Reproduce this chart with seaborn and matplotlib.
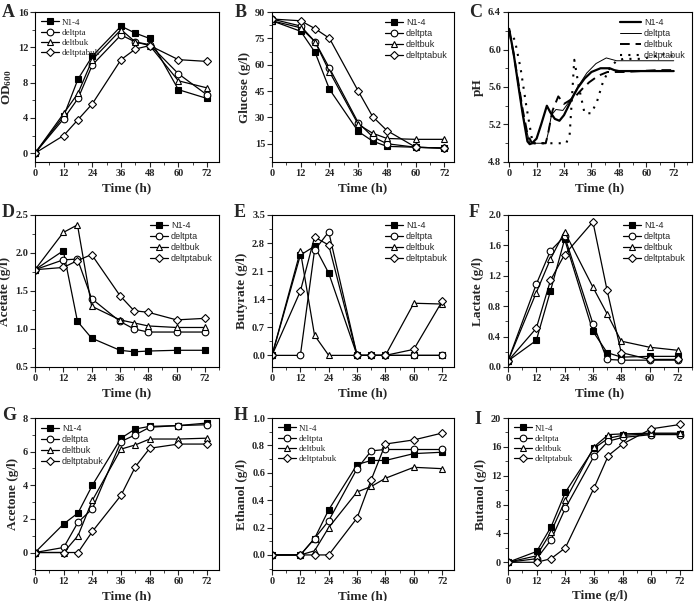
import numpy as np
import pandas as pd
import matplotlib
matplotlib.use("Agg")
import matplotlib.pyplot as plt
from matplotlib.ticker import AutoMinorLocator, FormatStrFormatter, MultipleLocator
import seaborn as sns

sns.set_style("ticks")
plt.rcParams['font.family'] = ['Liberation Serif', 'DejaVu Serif']
plt.rcParams['mathtext.fontset'] = 'custom'
plt.rcParams['mathtext.rm'] = 'Liberation Serif:bold'
plt.rcParams['mathtext.default'] = 'rm'

strains = ['N1-4', 'deltpta', 'deltbuk', 'deltptabuk']
time = [0, 12, 18, 24, 36, 42, 48, 60, 72]

# A: OD600
od = {
    'N1-4':       [0, 4.2, 8.4, 11.0, 14.4, 13.6, 13.0, 7.2, 6.2],
    'deltpta':    [0, 3.9, 6.2, 10.0, 13.4, 12.6, 12.3, 9.0, 6.6],
    'deltbuk':    [0, 4.5, 6.8, 10.6, 14.0, 12.6, 12.2, 8.2, 7.4],
    'deltptabuk': [0, 2.0, 3.8, 5.6, 10.6, 11.8, 12.2, 10.6, 10.4],
}
# B: glucose
glucose = {
    'N1-4':       [85, 79, 67, 46, 22, 16.5, 13.5, 13, 12.5],
    'deltpta':    [86, 82, 73, 58, 27, 19, 15, 13, 12.5],
    'deltbuk':    [85, 81, 73, 56, 26, 21, 18, 17.5, 17.5],
    'deltptabuk': [86, 85, 80.5, 75, 45, 30.5, 22.5, 13, 12.5],
}
# C: pH (online record)
ph_t = {
    'N1-4':       [0, 2, 4, 6, 8, 9, 10, 12, 14, 16.5, 18, 20, 22, 24, 26, 28, 30, 33, 36, 40, 44, 46, 48, 60, 72],
    'deltpta':    [0, 2, 4, 6, 9, 12, 16, 17, 18.5, 20.5, 23.5, 26.5, 30, 34, 38, 42.5, 47, 60, 72],
    'deltbuk':    [0, 2, 4, 6, 8, 10, 13, 16, 17, 19, 21.5, 24, 26, 29, 32, 35, 39, 43, 46, 50, 65, 72],
    'deltptabuk': [0, 2.5, 5, 7.5, 10.3, 15, 20, 25, 26.5, 28.5, 30.5, 33, 36, 38.5, 41, 44, 47, 50, 58, 64, 68, 72],
}
ph = {
    'N1-4':       [6.22, 5.95, 5.62, 5.3, 5.02, 4.99, 5.0, 5.05, 5.2, 5.4, 5.33, 5.26, 5.24, 5.3, 5.4, 5.5, 5.59, 5.69, 5.76, 5.8, 5.8, 5.78, 5.77, 5.77, 5.77],
    'deltpta':    [6.22, 5.95, 5.62, 5.3, 5.0, 5.0, 5.0, 5.1, 5.3, 5.36, 5.35, 5.45, 5.6, 5.75, 5.85, 5.91, 5.88, 5.88, 5.88],
    'deltbuk':    [6.2, 5.95, 5.65, 5.35, 5.1, 5.0, 5.0, 5.0, 5.1, 5.35, 5.5, 5.42, 5.45, 5.5, 5.58, 5.65, 5.72, 5.76, 5.76, 5.76, 5.78, 5.78],
    'deltptabuk': [6.2, 6.1, 5.8, 5.4, 5.0, 5.0, 5.0, 5.0, 5.1, 5.89, 5.6, 5.32, 5.32, 5.45, 5.65, 5.8, 5.88, 5.9, 5.9, 5.93, 5.95, 5.93],
}
# D: acetate
acetate = {
    'N1-4':       [1.78, 2.03, 1.10, 0.88, 0.72, 0.70, 0.71, 0.72, 0.72],
    'deltpta':    [1.78, 1.91, 1.92, 1.40, 1.10, 1.00, 0.96, 0.96, 0.96],
    'deltbuk':    [1.78, 2.27, 2.37, 1.30, 1.12, 1.08, 1.04, 1.02, 1.02],
    'deltptabuk': [1.78, 1.81, 1.90, 1.98, 1.44, 1.24, 1.22, 1.12, 1.14],
}
# E: butyrate
butyrate = {
    'N1-4':       [0, 2.5, 2.72, 2.05, 0, 0, 0, 0, 0],
    'deltpta':    [0, 0, 2.62, 3.08, 0, 0, 0, 0, 0],
    'deltbuk':    [0, 2.6, 0.5, 0, 0, 0, 0, 1.3, 1.28],
    'deltptabuk': [0, 1.6, 2.95, 2.75, 0, 0, 0, 0.15, 1.35],
}
# F: lactate
lactate = {
    'N1-4':       [0.08, 0.35, 1.0, 1.68, 0.47, 0.19, 0.13, 0.14, 0.14],
    'deltpta':    [0.08, 1.09, 1.53, 1.72, 0.57, 0.10, 0.09, 0.09, 0.09],
    'deltbuk':    [0.08, 0.98, 1.42, 1.78, 1.05, 0.70, 0.34, 0.26, 0.22],
    'deltptabuk': [0.08, 0.51, 1.14, 1.48, 1.91, 1.01, 0.19, 0.10, 0.10],
}
# G: acetone
acetone = {
    'N1-4':       [0, 1.7, 2.35, 4.0, 6.8, 7.35, 7.5, 7.55, 7.7],
    'deltpta':    [0, 0.3, 1.8, 2.6, 6.6, 7.0, 7.45, 7.55, 7.6],
    'deltbuk':    [0, 0.0, 1.0, 3.1, 6.15, 6.4, 6.75, 6.75, 6.8],
    'deltptabuk': [0, 0, 0, 1.25, 3.4, 5.1, 6.2, 6.45, 6.45],
}
# H: ethanol
ethanol = {
    'N1-4':       [0, 0, 0.12, 0.33, 0.66, 0.69, 0.69, 0.74, 0.75],
    'deltpta':    [0, 0, 0.12, 0.25, 0.63, 0.76, 0.77, 0.77, 0.77],
    'deltbuk':    [0, 0, 0.03, 0.20, 0.46, 0.50, 0.56, 0.64, 0.63],
    'deltptabuk': [0, 0, 0, 0, 0.27, 0.55, 0.81, 0.84, 0.89],
}
# I: butanol
butanol = {
    'N1-4':       [0, 1.5, 4.9, 9.7, 15.8, 17.2, 17.6, 17.8, 17.8],
    'deltpta':    [0, 0.5, 3.1, 7.5, 14.7, 16.8, 17.3, 17.7, 17.7],
    'deltbuk':    [0, 0.9, 4.2, 8.6, 16.0, 17.7, 17.8, 17.9, 17.9],
    'deltptabuk': [0, 0, 0.5, 2.0, 10.3, 14.8, 16.4, 18.5, 19.1],
}

markers = {'N1-4': 's', 'deltpta': 'o', 'deltbuk': '^', 'deltptabuk': 'D'}
faces = {'N1-4': 'black', 'deltpta': 'white', 'deltbuk': 'white', 'deltptabuk': 'white'}
msizes = {'N1-4': 4.2, 'deltpta': 4.8, 'deltbuk': 4.8, 'deltptabuk': 4.2}

fig = plt.figure(figsize=(6.96, 6.01), dpi=100)

W, H = 696.0, 601.0
def add_ax(l, t, r, b):
    return fig.add_axes([l / W, 1 - b / H, (r - l) / W, (b - t) / H])

rows = [(12, 162), (215, 367), (418, 570)]
cols = [(35, 219), (272, 454), (508, 692)]

def style(ax, xlim, ylim, ymaj, fmt=None, xlabel='Time (h)', ylabel=''):
    ax.set_xlim(*xlim)
    ax.set_ylim(*ylim)
    ax.xaxis.set_major_locator(MultipleLocator(12))
    ax.xaxis.set_minor_locator(MultipleLocator(6))
    ax.yaxis.set_major_locator(MultipleLocator(ymaj))
    ax.yaxis.set_minor_locator(MultipleLocator(ymaj / 2))
    if fmt:
        ax.yaxis.set_major_formatter(FormatStrFormatter(fmt))
    ax.tick_params(which='major', direction='out', length=3.5, width=0.8, labelsize=7.5, pad=1.5)
    ax.tick_params(which='minor', direction='out', length=2, width=0.6)
    for lab in ax.get_xticklabels() + ax.get_yticklabels():
        lab.set_fontweight('bold')
    for s in ax.spines.values():
        s.set_linewidth(0.8)
        s.set_color('black')
    ax.set_xlabel(xlabel, fontsize=9.5, fontweight='bold', labelpad=3)
    ax.set_ylabel(ylabel, fontsize=9.5, fontweight='bold', labelpad=3)

def marker_panel(ax, data, loc, serif):
    for s in strains:
        sns.lineplot(x=time, y=data[s], ax=ax, color='black', linewidth=0.9,
                     marker=markers[s], markersize=msizes[s], markerfacecolor=faces[s],
                     markeredgecolor='black', markeredgewidth=0.8, label=s)
    fam = ['Liberation Serif'] if serif else ['Liberation Sans']
    leg = ax.legend(loc=loc, frameon=False, handlelength=2.0, handletextpad=0.3,
                    labelspacing=0.2, borderaxespad=0.3, prop={'family': fam, 'size': 6.5})
    return leg

# A
ax = add_ax(cols[0][0], rows[0][0], cols[0][1], rows[0][1])
marker_panel(ax, od, 'upper left', True)
style(ax, (0, 77), (-1, 16), 4, ylabel='OD$_{600}$')

# B
ax = add_ax(cols[1][0], rows[0][0], cols[1][1], rows[0][1])
marker_panel(ax, glucose, 'upper right', False)
style(ax, (0, 76), (4.6, 90), 15, ylabel='Glucose (g/l)')
ax.yaxis.set_minor_locator(MultipleLocator(7.5))

# C
ax = add_ax(cols[2][0], rows[0][0], cols[2][1], rows[0][1])
ph_styles = {
    'N1-4':       dict(linestyle='-', linewidth=1.6),
    'deltpta':    dict(linestyle='-', linewidth=0.7),
    'deltbuk':    dict(linestyle=(0, (5, 3)), linewidth=1.4),
    'deltptabuk': dict(linestyle=(0, (1, 3)), linewidth=1.5),
}
for s in strains:
    sns.lineplot(x=ph_t[s], y=ph[s], ax=ax, color='black', label=s, **ph_styles[s])
ax.legend(loc='upper right', frameon=False, handlelength=2.4, handletextpad=0.3,
          labelspacing=0.2, borderaxespad=0.3, prop={'family': ['Liberation Sans'], 'size': 6.5})
style(ax, (-0.5, 80), (4.8, 6.4), 0.4, fmt='%.1f', ylabel='pH')

# D
ax = add_ax(cols[0][0], rows[1][0], cols[0][1], rows[1][1])
marker_panel(ax, acetate, 'upper right', False)
style(ax, (0, 78), (0.5, 2.5), 0.5, fmt='%.1f', ylabel='Acetate (g/l)')

# E
ax = add_ax(cols[1][0], rows[1][0], cols[1][1], rows[1][1])
marker_panel(ax, butyrate, 'upper right', False)
style(ax, (0, 77), (-0.29, 3.5), 0.7, fmt='%.1f', ylabel='Butyrate (g/l)')

# F
ax = add_ax(cols[2][0], rows[1][0], cols[2][1], rows[1][1])
marker_panel(ax, lactate, 'upper right', False)
style(ax, (0, 78), (0, 2.0), 0.4, fmt='%.1f', ylabel='Lactate (g/l)')

# G
ax = add_ax(cols[0][0], rows[2][0], cols[0][1], rows[2][1])
marker_panel(ax, acetone, 'upper left', False)
style(ax, (0, 77), (-1.04, 8), 2, ylabel='Acetone (g/l)')

# H
ax = add_ax(cols[1][0], rows[2][0], cols[1][1], rows[2][1])
marker_panel(ax, ethanol, 'upper left', True)
style(ax, (0, 77), (-0.11, 1.0), 0.2, fmt='%.1f', ylabel='Ethanol (g/l)')

# I
ax = add_ax(cols[2][0], rows[2][0], cols[2][1], rows[2][1])
marker_panel(ax, butanol, 'upper left', True)
style(ax, (0, 77), (-1.07, 20), 4, xlabel='Time (g/l)', ylabel='Butanol (g/l)')

# panel letters
letters = [('A', 2, 4), ('B', 235, 4), ('C', 469, 4),
           ('D', 2, 204), ('E', 234, 204), ('F', 469, 204),
           ('G', 2, 407), ('H', 234, 407), ('I', 474, 411)]
for t, x, y in letters:
    fig.text(x / W, 1 - y / H, t, fontsize=13, fontweight='bold', va='top', ha='left')

fig.savefig('out.png', dpi=100)
